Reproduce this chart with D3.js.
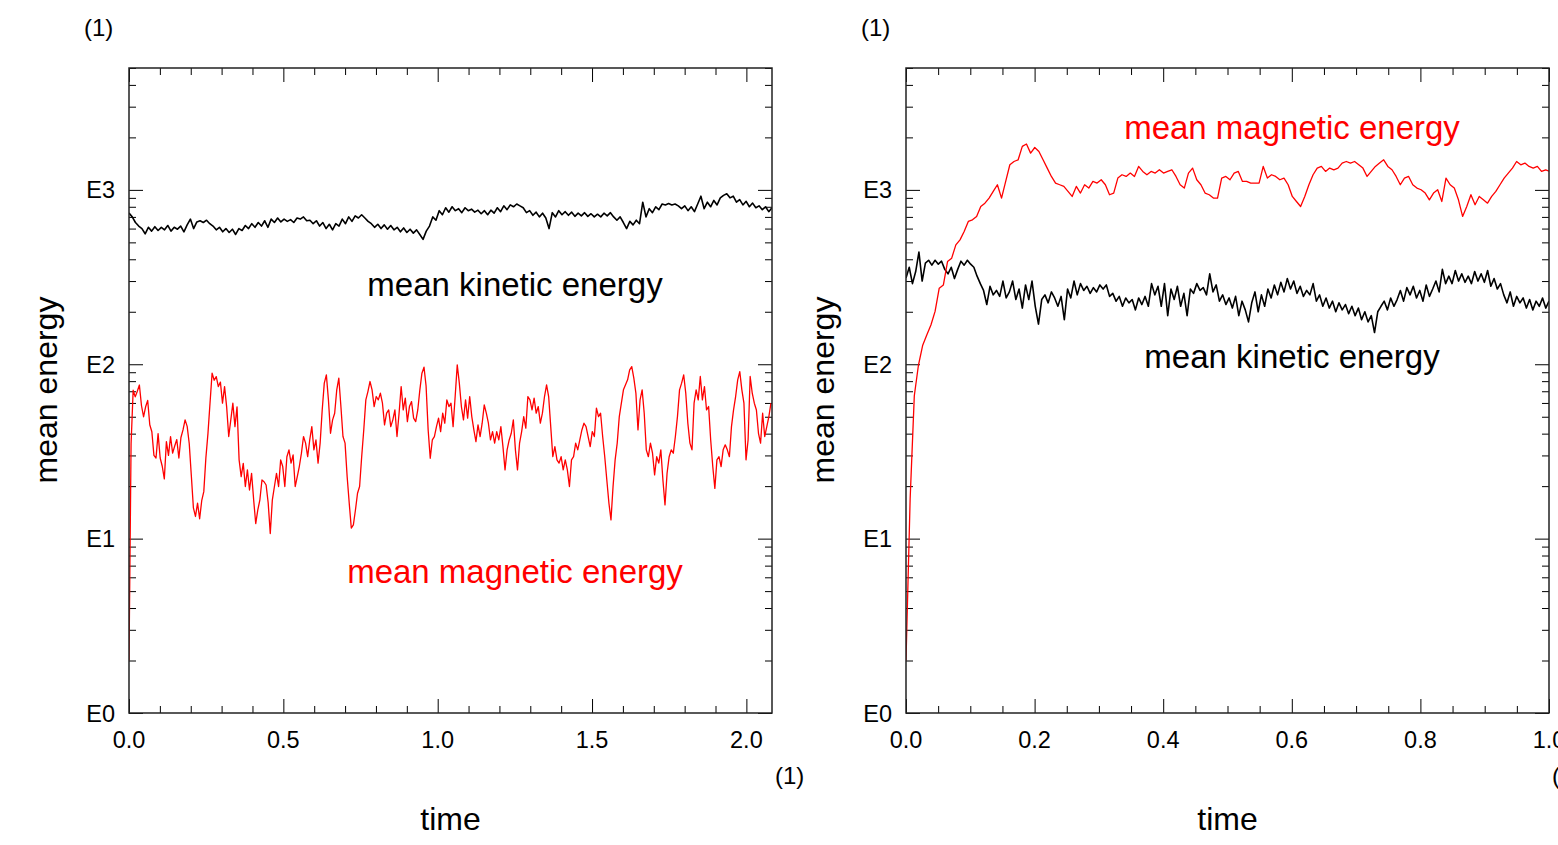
<!DOCTYPE html>
<html><head><meta charset="utf-8">
<script src="https://cdn.jsdelivr.net/npm/d3@7/dist/d3.min.js"></script>
<style>
body{margin:0;background:#fff}
text{font-family:"Liberation Sans",Arial,Helvetica,sans-serif}
</style>
</head><body>
<svg id="c" width="1558" height="845" xmlns="http://www.w3.org/2000/svg"></svg>
<script>
// ---------- data ----------
const yTickValues = [1, 10, 100, 1000];
const yTickLabels = ["E0", "E1", "E2", "E3"];
const yDomain = [1, 5000];

const leftXDomain = [0, 2.083];
const leftXTicks = [0, 0.5, 1.0, 1.5, 2.0];
const leftXTickLabels = ["0.0", "0.5", "1.0", "1.5", "2.0"];
const leftMinorStep = 0.1;

const rightXDomain = [0, 1.0];
const rightXTicks = [0, 0.2, 0.4, 0.6, 0.8, 1.0];
const rightXTickLabels = ["0.0", "0.2", "0.4", "0.6", "0.8", "1.0"];
const rightMinorStep = 0.05;

const seriesNames = ["mean kinetic energy", "mean magnetic energy"];
const unitLabel = "(1)";
const yTitle = "mean energy";
const xTitle = "time";

// left panel: mean magnetic energy, sampled every dt from t=0
const magLeftDt = 0.00673;
const magLeft = [2.0, 35, 71, 65, 70, 76, 58, 50, 57, 62, 45, 41, 30, 29, 40, 29, 26, 22,
36, 30, 38.5, 30.9, 34, 37, 29, 38, 42, 48, 44, 35, 23, 15, 13.4, 16, 13, 16.5, 18.6, 29, 40, 60,
89, 81, 85, 74.5, 79, 59.8, 74.5, 57, 38.5, 48, 59.8, 43.9, 57, 28.3, 22.7, 27, 19.9, 24.8, 19, 23.7,
16.7, 12.2, 14.6, 16.7, 21.7, 21.2, 20.3, 16, 10.7, 16.7, 19.9, 23.7, 19.9, 28.3, 25.9, 19.9, 29.5, 32.3,
27.1, 30.2, 19.9, 22.7, 26, 30.9, 38.5, 35.3, 29.5, 36.8, 43.9, 32.3, 36.8, 27.1, 35.3, 54.7, 77.9, 86.9,
62.5, 40.2, 48, 52.4, 71.3, 83.2, 57.2, 38.5, 35.3, 22.7, 16, 11.5, 12, 14.6, 18.2, 19.9, 29.5, 42, 62.5,
69.7, 79.6, 71.3, 57.2, 65.3, 62.5, 68.2, 59.8, 44.9, 52.4, 54.7, 43.9, 48, 54.7, 38.5, 52.4, 74.5, 54.7,
63.9, 46.9, 57.2, 61.1, 49.1, 46.9, 54.7, 71.3, 88.9, 96.2, 75, 42, 28.9, 36.8, 38.5, 43.9, 49.1, 41.1,
52.4, 45.9, 62.5, 57.2, 59.8, 43.9, 65.3, 99.2, 77.9, 57.2, 48, 62.5, 49.1, 65.3, 50.1, 42, 36, 44.9,
38.5, 45.9, 58.5, 52.4, 45.9, 36.8, 41.1, 35.3, 41.1, 36.8, 43.9, 33.7, 24.8, 32.3, 36.8, 40.2, 48, 32.3,
24.8, 35.3, 41.1, 50.1, 43, 65.3, 62.5, 54.7, 63.9, 52.4, 57.2, 45.9, 52.4, 65.3, 76.2, 65.3, 43.9, 29.5,
33.7, 28.3, 27.1, 29.5, 24.8, 28.3, 24.8, 19.9, 28.3, 29.5, 35.3, 32.3, 36.8, 42, 45.9, 43.9, 38.5, 33.7,
41.1, 38.5, 56, 50.1, 52.4, 38.5, 29.5, 21.7, 16, 12.8, 19.9, 28.3, 35.3, 50.1, 59.8, 71.3, 76.2, 81.4,
92.9, 97, 83.2, 68.2, 42, 62.5, 71.3, 52.4, 32.3, 29.5, 35.3, 30.9, 23.2, 29.5, 27.1, 32.3, 21.7, 15.6,
23.7, 29.5, 32.3, 30.9, 38.5, 50.1, 71.3, 77.9, 86.9, 68.2, 45.9, 35.3, 32.3, 59.8, 71.3, 62.5, 85.1, 62.5,
74.5, 54.7, 57.2, 36.8, 25.9, 19.4, 28.3, 29.5, 25.9, 32.3, 34.5, 32.3, 29.5, 43.9, 54.7, 65.3, 81.4, 90.8,
71.3, 59.8, 28.3, 36.8, 85.1, 68.2, 59.8, 54.7, 40.2, 35.3, 52.4, 38.5, 43.9, 50.1, 59.8];

// left panel: mean kinetic energy, from t=0 to t=2.083
const kinLeftEnd = 2.083;
const kinLeft = [736, 700, 650, 620, 600, 560, 610, 580, 615, 585,
610, 590, 625, 580, 610, 595, 620, 575, 630, 680,
600, 655, 665, 650, 670, 640, 620, 590, 610, 575,
600, 570, 595, 555, 600, 585, 625, 600, 640, 610,
650, 620, 665, 610, 680, 650, 690, 655, 680, 660,
675, 650, 690, 680, 700, 665, 670, 640, 665, 620,
650, 600, 635, 590, 640, 620, 680, 640, 700, 660,
710, 690, 720, 690, 660, 640, 610, 635, 600, 630,
595, 625, 590, 610, 575, 605, 570, 595, 565, 590,
555, 520, 580, 620, 700, 670, 760, 720, 790, 745,
800, 760, 780, 740, 790, 760, 775, 745, 765, 730,
760, 720, 765, 735, 790, 750, 810, 770, 820, 800,
830, 810, 790, 740, 760, 715, 745, 700, 735, 690,
600, 740, 700, 760, 720, 750, 715, 745, 705, 735,
710, 740, 705, 730, 700, 725, 700, 735, 710, 740,
700, 670, 700, 650, 600, 660, 630, 670, 640, 850,
700, 780, 740, 800, 770, 830, 820, 835, 820, 830,
810, 780, 810, 760, 800, 750, 830, 920, 780, 850,
800, 870, 820, 900, 930, 950, 900, 920, 850, 880,
820, 860, 800, 840, 790, 810, 770, 800, 750, 790];

// right panel: mean magnetic energy, sampled every dt from t=0
const magRightDt = 0.00646;
const magRight = [2, 17, 66, 99, 128, 147, 168, 201, 273, 285,
388, 406, 484, 517, 577, 659, 673, 704, 803, 839,
897, 980, 1070, 897, 1118, 1393, 1455, 1488, 1775, 1832,
1625, 1750, 1660, 1488, 1333, 1194, 1094, 1070, 1047, 980,
917, 1047, 959, 1070, 1024, 1118, 1094, 1143, 1070, 938,
959, 1169, 1221, 1194, 1248, 1194, 1363, 1276, 1221, 1276,
1248, 1304, 1248, 1276, 1304, 1194, 1070, 1024, 1248, 1333,
1143, 1070, 959, 938, 897, 897, 1169, 1194, 1143, 1248,
1276, 1118, 1118, 1094, 1094, 1094, 1363, 1169, 1221, 1194,
1143, 1169, 1070, 917, 858, 803, 917, 1070, 1221, 1333,
1363, 1276, 1333, 1304, 1333, 1424, 1455, 1424, 1455, 1393,
1333, 1194, 1276, 1363, 1424, 1488, 1363, 1304, 1194, 1070,
1169, 1194, 1070, 1024, 1002, 959, 877, 959, 1002, 858,
1169, 1070, 1024, 877, 704, 803, 938, 822, 917, 877,
839, 917, 980, 1070, 1169, 1248, 1333, 1455, 1393, 1424,
1363, 1333, 1363, 1276, 1304, 1276];

// right panel: mean kinetic energy, from t=0 to t=1.0
const kinRightEnd = 1.0;
const kinRight = [312, 360, 290, 340, 440, 300, 380, 395, 370, 395,
375, 390, 350, 330, 360, 310, 350, 390, 370, 395,
375, 360, 320, 290, 265, 220, 280, 250, 265, 245,
300, 240, 260, 300, 235, 270, 210, 285, 235, 300,
215, 170, 235, 250, 225, 260, 240, 215, 245, 180,
270, 240, 300, 250, 290, 265, 280, 255, 275, 260,
285, 270, 285, 245, 255, 230, 245, 215, 240, 225,
235, 205, 240, 220, 245, 215, 290, 250, 280, 215,
290, 190, 270, 235, 280, 215, 255, 190, 270, 255,
290, 265, 275, 250, 330, 260, 285, 230, 250, 220,
240, 210, 245, 190, 230, 205, 175, 225, 260, 200,
250, 215, 270, 240, 285, 250, 295, 260, 310, 270,
300, 255, 280, 245, 265, 250, 290, 230, 250, 215,
240, 210, 230, 200, 225, 205, 220, 195, 215, 190,
210, 180, 200, 175, 190, 152, 200, 215, 230, 205,
240, 215, 235, 265, 230, 275, 250, 280, 240, 265,
230, 285, 245, 270, 300, 260, 350, 290, 320, 290,
345, 300, 330, 295, 320, 290, 340, 300, 330, 295,
345, 280, 310, 270, 290, 250, 225, 260, 215, 245,
225, 240, 210, 235, 205, 230, 215, 240, 210, 230];

// ---------- drawing ----------
const svg = d3.select("#c");
svg.append("rect").attr("width", 1558).attr("height", 845).attr("fill", "#fff");

const TOP = 68, BOTTOM = 713, W = 643;

function withStep(vals, dt) { return vals.map((v, i) => [i * dt, v]); }
function withEnd(vals, tEnd) { return vals.map((v, i) => [i * tEnd / (vals.length - 1), v]); }

function panel(cfg) {
  const g = svg.append("g");
  const left = cfg.left, right = left + W;
  const x = d3.scaleLinear().domain(cfg.xDomain).range([left, right]);
  const y = d3.scaleLog().domain(yDomain).range([BOTTOM, TOP]);

  const clipId = "clip" + cfg.id;
  svg.append("defs").append("clipPath").attr("id", clipId)
    .append("rect").attr("x", left).attr("y", TOP).attr("width", W).attr("height", BOTTOM - TOP);

  // minor ticks
  const xMinor = d3.range(0, cfg.xDomain[1] + 1e-9, cfg.minorStep)
    .filter(v => !cfg.xTicks.some(m => Math.abs(m - v) < 1e-6));
  const yMinor = [];
  [1, 10, 100, 1000].forEach(d => { for (let m = 2; m <= 9; m++) if (m * d <= yDomain[1]) yMinor.push(m * d); });

  const styleAxis = sel => {
    sel.select(".domain").remove();
    sel.selectAll("line").attr("stroke", "#000").attr("stroke-width", 1);
  };
  g.append("g").attr("transform", `translate(0,${BOTTOM})`)
    .call(d3.axisBottom(x).tickValues(cfg.xTicks).tickSize(-14).tickFormat("")).call(styleAxis);
  g.append("g").attr("transform", `translate(0,${BOTTOM})`)
    .call(d3.axisBottom(x).tickValues(xMinor).tickSize(-7).tickFormat("")).call(styleAxis);
  g.append("g").attr("transform", `translate(0,${TOP})`)
    .call(d3.axisTop(x).tickValues(cfg.xTicks).tickSize(-14).tickFormat("")).call(styleAxis);
  g.append("g").attr("transform", `translate(0,${TOP})`)
    .call(d3.axisTop(x).tickValues(xMinor).tickSize(-7).tickFormat("")).call(styleAxis);
  g.append("g").attr("transform", `translate(${left},0)`)
    .call(d3.axisLeft(y).tickValues(yTickValues).tickSize(-14).tickFormat("")).call(styleAxis);
  g.append("g").attr("transform", `translate(${left},0)`)
    .call(d3.axisLeft(y).tickValues(yMinor).tickSize(-7).tickFormat("")).call(styleAxis);
  g.append("g").attr("transform", `translate(${right},0)`)
    .call(d3.axisRight(y).tickValues(yTickValues).tickSize(-14).tickFormat("")).call(styleAxis);
  g.append("g").attr("transform", `translate(${right},0)`)
    .call(d3.axisRight(y).tickValues(yMinor).tickSize(-7).tickFormat("")).call(styleAxis);

  // lines
  const line = d3.line().x(d => x(d[0])).y(d => y(d[1]));
  const lg = g.append("g").attr("clip-path", `url(#${clipId})`);
  lg.append("path").datum(cfg.kin).attr("d", line)
    .attr("fill", "none").attr("stroke", "#000").attr("stroke-width", 1.6).attr("stroke-linejoin", "round");
  lg.append("path").datum(cfg.mag).attr("d", line)
    .attr("fill", "none").attr("stroke", "#ff0000").attr("stroke-width", 1.3).attr("stroke-linejoin", "round");

  // frame
  g.append("rect").attr("x", left).attr("y", TOP).attr("width", W).attr("height", BOTTOM - TOP)
    .attr("fill", "none").attr("stroke", "#222").attr("stroke-width", 1.5);

  // tick labels
  g.selectAll(".xl").data(cfg.xTicks).enter().append("text")
    .attr("x", d => x(d)).attr("y", 748).attr("text-anchor", "middle")
    .attr("font-size", 23.5).attr("fill", "#000").text((d, i) => cfg.xTickLabels[i]);
  g.selectAll(".yl").data(yTickValues).enter().append("text")
    .attr("x", left - 14).attr("y", d => y(d) + 8.5).attr("text-anchor", "end")
    .attr("font-size", 23.5).attr("fill", "#000").text((d, i) => yTickLabels[i]);

  // unit labels
  g.append("text").attr("x", left - 45).attr("y", 36).attr("font-size", 24).attr("fill", "#000").text(unitLabel);
  g.append("text").attr("x", right + 3).attr("y", 784).attr("font-size", 24).attr("fill", "#000").text(unitLabel);

  // axis titles
  g.append("text").attr("transform", `translate(${left - 72},${390}) rotate(-90)`)
    .attr("text-anchor", "middle").attr("font-size", 32).attr("fill", "#000").text(yTitle);
  g.append("text").attr("x", (left + right) / 2).attr("y", 830)
    .attr("text-anchor", "middle").attr("font-size", 32).attr("fill", "#000").text(xTitle);

  // series annotations
  g.append("text").attr("x", left + cfg.kinLabel[0]).attr("y", cfg.kinLabel[1])
    .attr("text-anchor", "middle").attr("font-size", 33).attr("fill", "#000").text(seriesNames[0]);
  g.append("text").attr("x", left + cfg.magLabel[0]).attr("y", cfg.magLabel[1])
    .attr("text-anchor", "middle").attr("font-size", 33).attr("fill", "#ff0000").text(seriesNames[1]);
}

panel({
  id: "L", left: 129, xDomain: leftXDomain, xTicks: leftXTicks, xTickLabels: leftXTickLabels,
  minorStep: leftMinorStep,
  kin: withEnd(kinLeft, kinLeftEnd), mag: withStep(magLeft, magLeftDt),
  kinLabel: [386, 296], magLabel: [386, 583]
});
panel({
  id: "R", left: 906, xDomain: rightXDomain, xTicks: rightXTicks, xTickLabels: rightXTickLabels,
  minorStep: rightMinorStep,
  kin: withEnd(kinRight, kinRightEnd), mag: withStep(magRight, magRightDt),
  kinLabel: [386, 368], magLabel: [386, 139]
});
</script>
</body></html>
